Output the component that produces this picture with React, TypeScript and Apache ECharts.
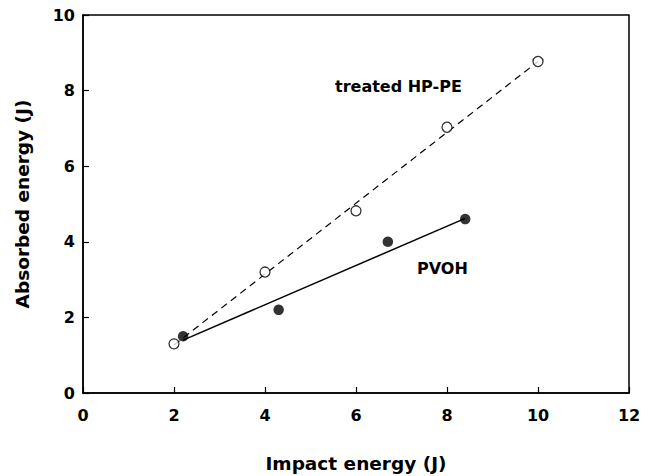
import React, { useEffect, useRef } from "react";
import * as echarts from "echarts";

const hpX = [2, 4, 6, 8, 10];
const hpY = [1.3, 3.2, 4.82, 7.03, 8.77];
const pvX = [2.2, 4.3, 6.7, 8.4];
const pvY = [1.5, 2.2, 4.0, 4.6];
const hpFitX = [2, 10];
const hpFitY = [1.27, 8.77];
const pvFitX = [2.2, 8.4];
const pvFitY = [1.4, 4.62];

const FONT = "'DejaVu Sans', 'Liberation Sans', Arial, sans-serif";

const zip = (xs: number[], ys: number[]) => xs.map((x, i) => [x, ys[i]]);

export default function App() {
  const ref = useRef<HTMLDivElement>(null);
  useEffect(() => {
    if (!ref.current) return;
    const chart = echarts.init(ref.current, undefined, { renderer: "svg" });
    const axisCommon = {
      axisLine: { show: true, lineStyle: { color: "#000", width: 1.5 } },
      axisTick: { show: true, inside: true, length: 6, lineStyle: { color: "#000", width: 1.2 } },
      splitLine: { show: false },
      axisLabel: { color: "#000", fontFamily: FONT, fontWeight: "bold", fontSize: 16 },
      nameTextStyle: { color: "#000", fontFamily: FONT, fontWeight: "bold", fontSize: 18.5 },
      nameLocation: "middle" as const,
    };
    chart.setOption({
      animation: false,
      backgroundColor: "#fff",
      grid: {
        left: 83,
        right: 23,
        top: 15,
        bottom: 83,
        containLabel: false,
        outerBoundsMode: "none",
        show: true,
        borderColor: "#000",
        borderWidth: 1.5,
      },
      xAxis: {
        type: "value",
        min: 0,
        max: 12,
        interval: 2,
        name: "Impact energy (J)",
        nameGap: 61,
        ...axisCommon,
        axisLabel: { ...axisCommon.axisLabel, margin: 14 },
      },
      yAxis: {
        type: "value",
        min: 0,
        max: 10,
        interval: 2,
        name: "Absorbed energy (J)",
        nameGap: 51,
        ...axisCommon,
        axisLabel: { ...axisCommon.axisLabel, margin: 8 },
      },
      series: [
        {
          type: "line",
          data: zip(hpFitX, hpFitY),
          showSymbol: false,
          symbol: "none",
          lineStyle: { color: "#000", width: 1.2, type: [7, 5] },
          z: 1,
        },
        {
          type: "line",
          data: zip(pvFitX, pvFitY),
          showSymbol: false,
          symbol: "none",
          lineStyle: { color: "#000", width: 1.5 },
          z: 1,
        },
        {
          type: "scatter",
          data: zip(hpX, hpY),
          symbol: "circle",
          symbolSize: 10,
          itemStyle: { color: "#fff", borderColor: "#000", borderWidth: 1.3 },
          z: 3,
        },
        {
          type: "scatter",
          data: zip(pvX, pvY),
          symbol: "circle",
          symbolSize: 10.5,
          itemStyle: { color: "#000" },
          z: 3,
        },
      ],
      graphic: [
        {
          type: "text",
          left: 335,
          top: 78,
          style: { text: "treated HP-PE", fill: "#000", font: `bold 16px ${FONT}` },
        },
        {
          type: "text",
          left: 417,
          top: 260,
          style: { text: "PVOH", fill: "#000", font: `bold 16px ${FONT}` },
        },
      ],
    });
    return () => chart.dispose();
  }, []);
  return (
    <div
      ref={ref}
      style={{ position: "fixed", left: 0, top: 0, width: 652, height: 476, background: "#fff" }}
    />
  );
}
